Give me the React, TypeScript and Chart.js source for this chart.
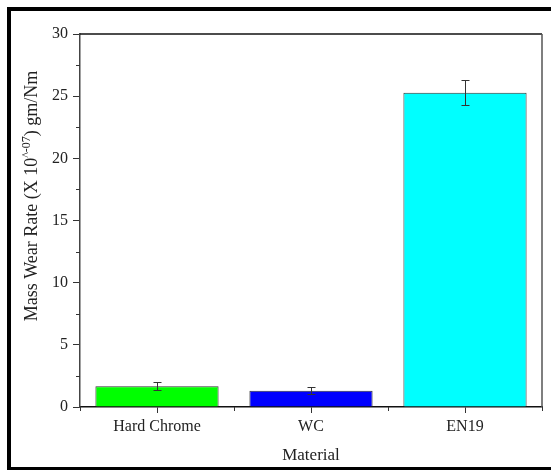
import React, { useEffect, useRef } from 'react';
import { Chart, registerables } from 'chart.js';

Chart.register(...registerables);

const categories = ['Hard Chrome', 'WC', 'EN19'];
const wearRate = [1.67, 1.31, 25.27];
const wearError = [0.31, 0.3, 1.0];
const barColors = ['#00ff00', '#0000ff', '#00ffff'];
const yMinorTicks = [2.5, 7.5, 12.5, 17.5, 22.5, 27.5];
const xMinorTicks = [-0.5, 0.5, 1.5, 2.5];
const yTitleMain = 'Mass Wear Rate (X 10';
const yTitleSup = '^-07';
const yTitleEnd = ') gm/Nm';
const xTitle = 'Material';

const FONT = '"Liberation Serif", "Times New Roman", serif';

const decorPlugin = {
  id: 'decor',
  afterDatasetsDraw(chart: any) {
    const ctx = chart.ctx;
    const xs = chart.scales.x;
    const ys = chart.scales.y;
    ctx.save();
    ctx.strokeStyle = '#333';
    ctx.lineWidth = 1;
    wearRate.forEach((v, i) => {
      const px = Math.round(xs.getPixelForValue(i)) + 0.5;
      const top = Math.round(ys.getPixelForValue(v + wearError[i])) + 0.5;
      const bot = Math.round(ys.getPixelForValue(v - wearError[i])) + 0.5;
      ctx.beginPath();
      ctx.moveTo(px, top);
      ctx.lineTo(px, bot);
      ctx.moveTo(px - 4, top);
      ctx.lineTo(px + 4, top);
      ctx.moveTo(px - 4, bot);
      ctx.lineTo(px + 4, bot);
      ctx.stroke();
    });
    ctx.restore();
  },
  afterDraw(chart: any) {
    const ctx = chart.ctx;
    const xs = chart.scales.x;
    const ys = chart.scales.y;
    const area = chart.chartArea;
    ctx.save();
    // plot frame top & right
    ctx.strokeStyle = '#111';
    ctx.lineWidth = 1.5;
    ctx.beginPath();
    ctx.moveTo(area.left, area.top);
    ctx.lineTo(area.right, area.top);
    ctx.stroke();
    ctx.strokeStyle = '#555';
    ctx.beginPath();
    ctx.moveTo(area.right, area.top);
    ctx.lineTo(area.right, area.bottom);
    ctx.stroke();
    // minor ticks
    ctx.strokeStyle = '#333';
    ctx.lineWidth = 1;
    yMinorTicks.forEach((v) => {
      const py = Math.round(ys.getPixelForValue(v)) + 0.5;
      ctx.beginPath();
      ctx.moveTo(area.left - 4, py);
      ctx.lineTo(area.left, py);
      ctx.stroke();
    });
    xMinorTicks.forEach((v) => {
      const px = Math.round(xs.getPixelForValue(v)) + 0.5;
      ctx.beginPath();
      ctx.moveTo(px, area.bottom);
      ctx.lineTo(px, area.bottom + 4);
      ctx.stroke();
    });
    // y title with superscript
    const big = `18px ${FONT}`;
    const small = `12px ${FONT}`;
    ctx.font = big;
    const w1 = ctx.measureText(yTitleMain).width;
    const w3 = ctx.measureText(yTitleEnd).width;
    ctx.font = small;
    const w2 = ctx.measureText(yTitleSup).width;
    const total = w1 + w2 + w3;
    ctx.translate(37, 196);
    ctx.rotate(-Math.PI / 2);
    ctx.fillStyle = '#222';
    ctx.textBaseline = 'alphabetic';
    ctx.textAlign = 'left';
    let x0 = -total / 2;
    ctx.font = big;
    ctx.fillText(yTitleMain, x0, 0);
    x0 += w1;
    ctx.font = small;
    ctx.fillText(yTitleSup, x0, -7);
    x0 += w2;
    ctx.font = big;
    ctx.fillText(yTitleEnd, x0, 0);
    ctx.restore();
    // outer frame
    ctx.save();
    ctx.fillStyle = '#000';
    ctx.fillRect(7, 7, chart.width - 7, 4);
    ctx.fillRect(7, 7, 4, chart.height - 7);
    ctx.fillRect(7, chart.height - 3, chart.width - 7, 3);
    ctx.restore();
  },
};

export default function App() {
  const ref = useRef<HTMLCanvasElement>(null);
  useEffect(() => {
    if (!ref.current) return;
    const chart = new Chart(ref.current, {
      type: 'bar',
      data: {
        labels: categories,
        datasets: [
          {
            data: wearRate,
            backgroundColor: barColors,
            borderColor: '#333',
            borderWidth: 1,
            barPercentage: 1,
            categoryPercentage: 0.8,
          },
        ],
      },
      options: {
        animation: false,
        responsive: false,
        maintainAspectRatio: false,
        layout: { padding: { left: 0, top: 34, right: 9, bottom: 0 } },
        plugins: { legend: { display: false }, tooltip: { enabled: false } },
        scales: {
          x: {
            type: 'category',
            offset: true,
            grid: {
              display: true,
              drawOnChartArea: false,
              offset: false,
              tickLength: 6,
              color: '#333',
              tickColor: '#333',
            },
            border: { color: '#111', width: 1.5 },
            ticks: {
              font: { family: FONT, size: 16 },
              color: '#222',
              padding: 4,
              maxRotation: 0,
              autoSkip: false,
            },
            title: {
              display: true,
              text: xTitle,
              font: { family: FONT, size: 17 },
              color: '#222',
              padding: { top: 0, bottom: 4 },
            },
            afterFit(s: any) {
              s.height = 63;
            },
          },
          y: {
            min: 0,
            max: 30,
            grid: {
              display: true,
              drawOnChartArea: false,
              tickLength: 7,
              color: '#333',
              tickColor: '#333',
            },
            border: { color: '#444', width: 1.5 },
            ticks: {
              stepSize: 5,
              font: { family: FONT, size: 16 },
              color: '#222',
              padding: 5,
            },
            afterFit(s: any) {
              s.width = 80;
            },
          },
        },
      },
      plugins: [decorPlugin],
    });
    return () => chart.destroy();
  }, []);
  return (
    <div style={{ position: 'absolute', left: 0, top: 0, width: 551, height: 470, background: '#fff' }}>
      <canvas ref={ref} width={551} height={470} style={{ display: 'block' }} />
    </div>
  );
}
